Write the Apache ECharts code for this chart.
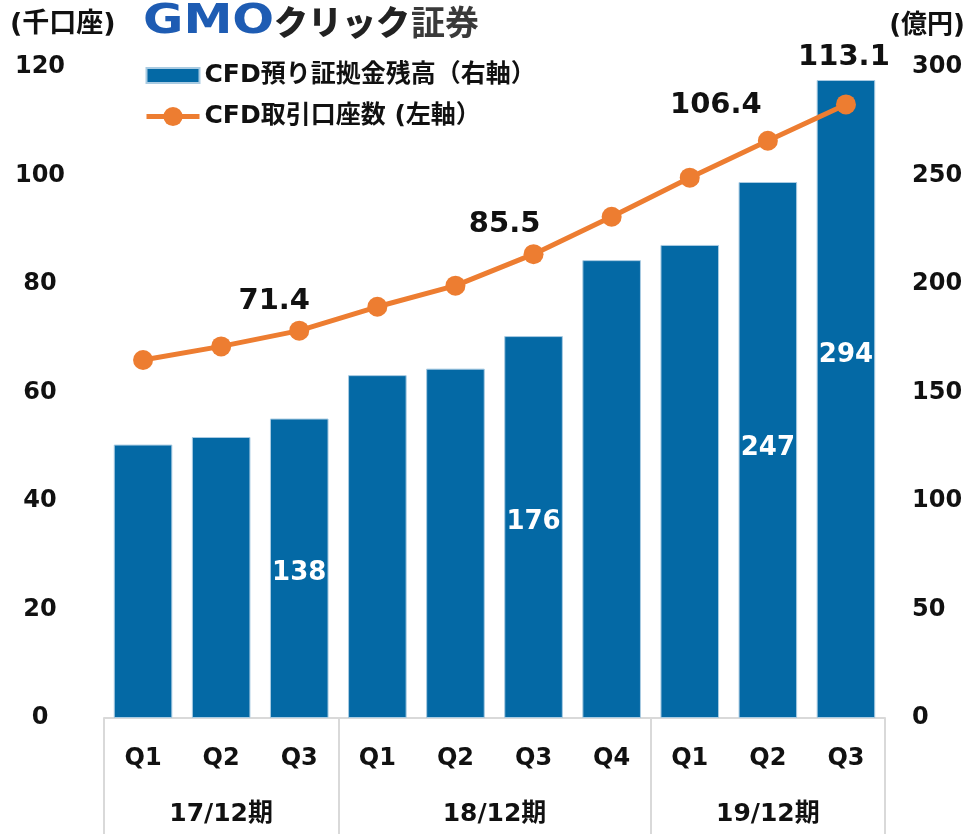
<!DOCTYPE html>
<html>
<head>
<meta charset="utf-8">
<script src="https://cdn.jsdelivr.net/npm/echarts@6/dist/echarts.min.js"></script>
<style>
  html, body { margin: 0; padding: 0; background: #fff; }
  #chart { width: 970px; height: 834px; }
</style>
</head>
<body>
<div id="chart"></div>
<script>
// categories
const quarters = ['Q1', 'Q2', 'Q3', 'Q1', 'Q2', 'Q3', 'Q4', 'Q1', 'Q2', 'Q3'];
const groups = ['17/12期', '18/12期', '19/12期'];
const groupSizes = [3, 4, 3];

// series values
const marginBalance = [126, 129.5, 138, 158, 161, 176, 211, 218, 247, 294]; // 億円 (right axis)
const accounts = [66.0, 68.5, 71.4, 75.8, 79.7, 85.5, 92.4, 99.6, 106.4, 113.1]; // 千口座 (left axis)

// which points carry a value label
const barLabelIdx = [2, 5, 8, 9];
const lineLabelIdx = [2, 5, 8, 9];

// axis scales
const leftAxis = { min: 0, max: 120, interval: 20 };
const rightAxis = { min: 0, max: 300, interval: 50 };

const FONT = "'DejaVu Sans', 'Noto Sans CJK JP', sans-serif";
const BAR_COLOR = '#0469A5';
const LINE_COLOR = '#ED7D31';

// group layout on a 0..N value scale aligned with the category bands
const bounds = [0];
groupSizes.forEach(n => bounds.push(bounds[bounds.length - 1] + n));
const centers = groupSizes.map((n, i) => bounds[i] + n / 2);

// label tweaks (placement only)
const barLabelOffset = { 2: [0, 5], 5: [0, -5], 8: [0, -2], 9: [0, -44] };
const lineLabelOffset = { 2: [-25, 0], 5: [-29, 0], 8: [-52, -6], 9: [-2, -17] };

const barData = marginBalance.map((v, i) => ({
  value: v,
  label: barLabelIdx.includes(i)
    ? { show: true, position: 'inside', offset: barLabelOffset[i],
        formatter: '{c}', color: '#fff', fontSize: 26, fontWeight: 'bold', fontFamily: FONT }
    : { show: false }
}));

const lineData = accounts.map((v, i) => ({
  value: v,
  label: lineLabelIdx.includes(i)
    ? { show: true, position: 'top', distance: 5, offset: lineLabelOffset[i],
        formatter: p => p.value.toFixed(1), color: '#111', fontSize: 29, fontWeight: 'bold', fontFamily: FONT }
    : { show: false }
}));

const chart = echarts.init(document.getElementById('chart'), null, { renderer: 'canvas' });

chart.setOption({
  animation: false,
  backgroundColor: '#fff',
  textStyle: { fontFamily: FONT },
  grid: { left: 104, right: 85, top: 67, bottom: 116, containLabel: false },
  legend: {
    orient: 'vertical',
    left: 144,
    top: 63,
    padding: 0,
    itemWidth: 53,
    itemHeight: 24,
    itemGap: 16,
    textStyle: { fontSize: 25, fontWeight: 'bold', color: '#111', fontFamily: FONT },
    data: [
      { name: 'CFD預り証拠金残高（右軸）', icon: 'path://M0 0H53V15H0Z' },
      { name: 'CFD取引口座数 (左軸）', lineStyle: { width: 5 } }
    ]
  },
  xAxis: [
    {
      type: 'category',
      position: 'bottom',
      data: quarters,
      axisLine: { lineStyle: { color: '#d9d9d9', width: 2 } },
      axisTick: { show: false },
      axisLabel: { margin: 29, fontSize: 24, fontWeight: 'bold', color: '#111', fontFamily: FONT }
    },
    {
      type: 'value',
      position: 'bottom',
      min: 0,
      max: bounds[bounds.length - 1],
      axisLine: { show: false },
      splitLine: { show: false },
      axisTick: {
        show: true,
        customValues: bounds,
        length: 118,
        lineStyle: { color: '#d9d9d9', width: 2 }
      },
      axisLabel: {
        customValues: centers,
        margin: 84,
        fontSize: 25,
        fontWeight: 'bold',
        color: '#111',
        fontFamily: FONT,
        formatter: v => {
          const i = centers.findIndex(c => Math.abs(c - v) < 1e-6);
          return i >= 0 ? groups[i] : '';
        }
      }
    }
  ],
  yAxis: [
    {
      type: 'value',
      position: 'left',
      min: leftAxis.min, max: leftAxis.max, interval: leftAxis.interval,
      axisLine: { show: false },
      axisTick: { show: false },
      splitLine: { show: false },
      axisLabel: { align: 'center', margin: 64, fontSize: 24, fontWeight: 'bold', color: '#111', fontFamily: FONT }
    },
    {
      type: 'value',
      position: 'right',
      min: rightAxis.min, max: rightAxis.max, interval: rightAxis.interval,
      axisLine: { show: false },
      axisTick: { show: false },
      splitLine: { show: false },
      axisLabel: { align: 'left', margin: 27, fontSize: 24, fontWeight: 'bold', color: '#111', fontFamily: FONT }
    }
  ],
  series: [
    {
      name: 'CFD預り証拠金残高（右軸）',
      type: 'bar',
      xAxisIndex: 0,
      yAxisIndex: 1,
      barCategoryGap: '25%',
      itemStyle: { color: BAR_COLOR, borderColor: '#a9cbe2', borderWidth: 1 },
      data: barData,
      z: 2
    },
    {
      name: 'CFD取引口座数 (左軸）',
      type: 'line',
      xAxisIndex: 0,
      yAxisIndex: 0,
      symbol: 'circle',
      symbolSize: 20,
      lineStyle: { color: LINE_COLOR, width: 5 },
      itemStyle: { color: LINE_COLOR },
      data: lineData,
      z: 3
    }
  ],
  graphic: [
    {
      type: 'text', left: 10, top: 11,
      style: { text: '(千口座)', fontSize: 27, fontWeight: 'bold', fill: '#111', fontFamily: FONT }
    },
    {
      type: 'text', right: 5, top: 13,
      style: { text: '(億円)', fontSize: 26, fontWeight: 'bold', fill: '#111', fontFamily: FONT }
    },
    {
      type: 'group', left: 143, top: 2,
      children: [
        { type: 'text', x: 0, y: 0, scaleX: 1.2,
          style: { text: 'GMO', fontSize: 41, fontWeight: 'bold', fill: '#1e5cb3', fontFamily: "'DejaVu Sans', sans-serif" } },
        { type: 'text', x: 131, y: 3,
          style: { text: 'クリック', fontSize: 34, fontWeight: 900, fill: '#222', fontFamily: "'Noto Sans CJK JP', sans-serif" } },
        { type: 'text', x: 268, y: 3,
          style: { text: '証券', fontSize: 34, fontWeight: 'bold', fill: '#3a3a3a', fontFamily: "'Noto Sans CJK JP', sans-serif" } }
      ]
    }
  ]
});
</script>
</body>
</html>
